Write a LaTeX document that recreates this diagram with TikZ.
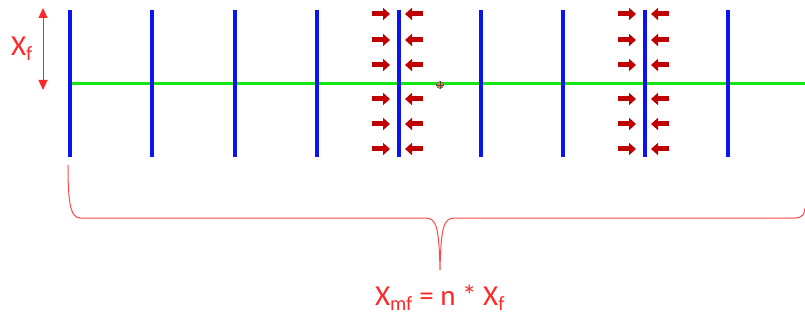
\documentclass[tikz,border=0pt]{standalone}
\usepackage{fontspec}
\setmainfont{Carlito}
\usetikzlibrary{arrows.meta}
\definecolor{wallblue}{RGB}{10,20,240}
\definecolor{axisgreen}{RGB}{20,230,20}
\definecolor{forcered}{RGB}{192,0,0}
\definecolor{dimred}{RGB}{255,40,40}
\definecolor{markorange}{RGB}{230,140,40}

\begin{document}
\begin{tikzpicture}[
    x=1pt, y=-1pt,
    wall/.style={line width=3.4pt, color=wallblue},
    axis/.style={line width=3pt, color=axisgreen},
    push/.style={-{Triangle[length=7pt,width=12pt]}, line width=5pt,
                 color=forcered},
    dim/.style={{Triangle[length=10pt,width=9pt]}-{Triangle[length=10pt,width=9pt]},
                line width=0.9pt, color=dimred},
    brace/.style={line width=1pt, color=dimred!85},
    lbl/.style={font=\fontsize{29}{31}\selectfont, text=dimred, inner sep=0pt},
]
\useasboundingbox (0,0) rectangle (805,323);

% the axis and the walls
\coordinate (axisL) at (70,84);
\coordinate (axisR) at (805,84);
\draw[axis] (axisL) -- (axisR);
\foreach \x in {70,152,235,317,399,481,563,645,728}
  \draw[wall] (\x,10) -- (\x,157);

% pushing forces on two of the walls
\foreach \w in {399,645}
  \foreach \y in {14,40,65,99,124,149} {
    \draw[push] (\w-27,\y) -- (\w-9,\y);
    \draw[push] (\w+24,\y) -- (\w+6,\y);
  }

% centre mark
\node[circle, draw=black!70, fill=markorange, inner sep=0pt,
      minimum size=7pt] (centre) at (440,85) {};
\draw[black!70, line width=0.5pt] (centre.north) -- (centre.south)
  (centre.west) -- (centre.east);

% wall spacing
\coordinate (xftop) at (43,8);
\coordinate (xfbot) at (43,90);
\draw[dim] (xftop) -- (xfbot);
\node[lbl] (xf) at (22,49) {X\textsubscript{f}};

% total length
\draw[brace] (68,165) .. controls (68,200) and (70,218) .. (80,218)
  -- (425,218) .. controls (436,218) and (439,225) .. (440,270)
  .. controls (441,225) and (444,218) .. (455,218)
  -- (795,218) .. controls (802,218) and (805,214) .. (805,208);
\node[lbl] (xmf) at (440,298) {X\textsubscript{mf} = n * X\textsubscript{f}};

\end{tikzpicture}
\end{document}
